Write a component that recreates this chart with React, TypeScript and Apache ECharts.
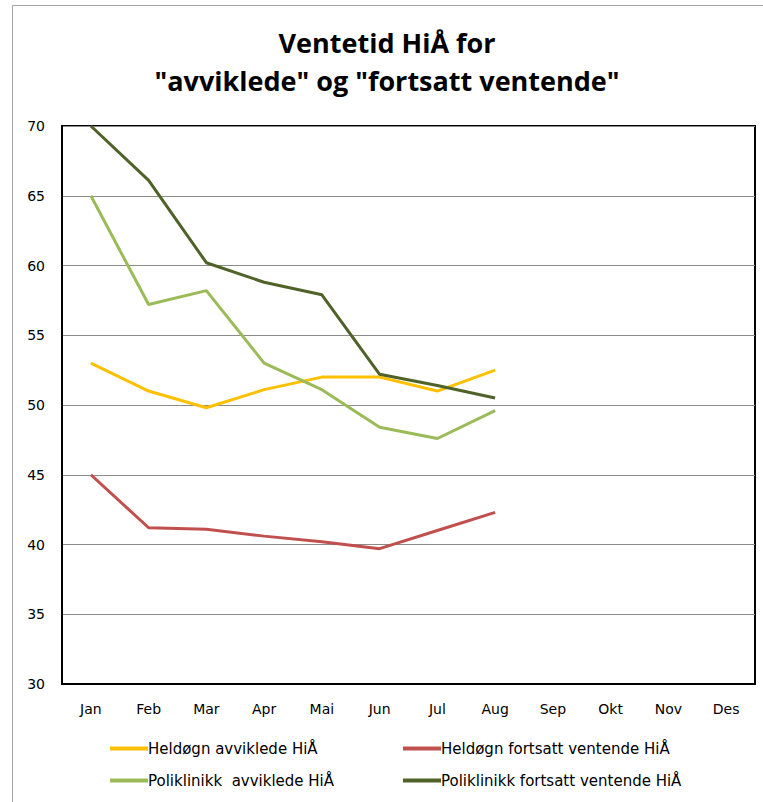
import React, { useEffect, useRef } from "react";
import * as echarts from "echarts";

const months = ["Jan", "Feb", "Mar", "Apr", "Mai", "Jun", "Jul", "Aug", "Sep", "Okt", "Nov", "Des"];
const heldognAvviklede = [53.0, 51.0, 49.8, 51.1, 52.0, 52.0, 51.0, 52.5];
const heldognFortsatt = [45.0, 41.2, 41.1, 40.6, 40.2, 39.7, 41.0, 42.3];
const polAvviklede = [65.0, 57.2, 58.2, 53.0, 51.1, 48.4, 47.6, 49.6];
const polFortsatt = [70.0, 66.1, 60.2, 58.8, 57.9, 52.2, 51.4, 50.5];
const seriesNames = [
  "Heldøgn avviklede HiÅ",
  "Heldøgn fortsatt ventende HiÅ",
  "Poliklinikk  avviklede HiÅ",
  "Poliklinikk fortsatt ventende HiÅ",
];
const colors = ["#FFC000", "#C0504D", "#9BBB59", "#4F6228"];

export default function App() {
  const ref = useRef<HTMLDivElement>(null);
  useEffect(() => {
    const chart = echarts.init(ref.current!, null, { renderer: "svg" });
    const data = [heldognAvviklede, heldognFortsatt, polAvviklede, polFortsatt];
    const labelFont = "'DejaVu Sans', Verdana, sans-serif";
    const legendFont = "'DejaVu Sans', sans-serif";
    chart.setOption({
      animation: false,
      backgroundColor: "#ffffff",
      title: {
        text: "Ventetid HiÅ for\n\"avviklede\" og \"fortsatt ventende\"",
        left: 382,
        textAlign: "center",
        top: 18,
        textStyle: {
          fontFamily: "'Liberation Sans Narrow', 'Open Sans', sans-serif",
          fontWeight: "bold",
          fontSize: 27,
          lineHeight: 38,
          color: "#000",
        },
      },
      graphic: [
        {
          type: "rect",
          shape: { x: 12.5, y: 5.5, width: 900, height: 900 },
          style: { fill: "none", stroke: "#A6A6A6", lineWidth: 1 },
          silent: true,
        },
      ],
      legend: [
        {
          orient: "vertical",
          left: 105,
          top: 736,
          itemGap: 17,
          itemWidth: 38,
          itemHeight: 4,
          icon: "rect",
          data: [seriesNames[0], seriesNames[2]],
          textStyle: { fontFamily: legendFont, fontSize: 15, color: "#000", padding: [0, 0, 0, -5] },
        },
        {
          orient: "vertical",
          left: 398,
          top: 736,
          itemGap: 17,
          itemWidth: 38,
          itemHeight: 4,
          icon: "rect",
          data: [seriesNames[1], seriesNames[3]],
          textStyle: { fontFamily: legendFont, fontSize: 15, color: "#000", padding: [0, 0, 0, -5] },
        },
      ],
      grid: {
        left: 62,
        top: 126,
        width: 693,
        height: 558,
        show: true,
        borderColor: "#000",
        borderWidth: 2,
        containLabel: false,
      },
      xAxis: {
        type: "category",
        data: months,
        boundaryGap: true,
        axisLine: { show: true, lineStyle: { color: "#000", width: 2 } },
        axisTick: { show: false },
        axisLabel: { fontFamily: labelFont, fontSize: 14, color: "#000", margin: 18 },
      },
      yAxis: {
        type: "value",
        min: 30,
        max: 70,
        interval: 5,
        axisLine: { show: true, lineStyle: { color: "#000", width: 2 } },
        axisTick: { show: false },
        axisLabel: { fontFamily: labelFont, fontSize: 14, color: "#000", margin: 17 },
        splitLine: { show: true, lineStyle: { color: "#8C8C8C", width: 1 } },
      },
      series: data.map((d, i) => ({
        name: seriesNames[i],
        type: "line",
        data: d,
        symbol: "none",
        color: colors[i],
        lineStyle: { color: colors[i], width: 3 },
      })),
    });
    return () => chart.dispose();
  }, []);
  return (
    <div
      ref={ref}
      style={{ position: "fixed", left: 0, top: 0, width: 763, height: 802 }}
    />
  );
}
